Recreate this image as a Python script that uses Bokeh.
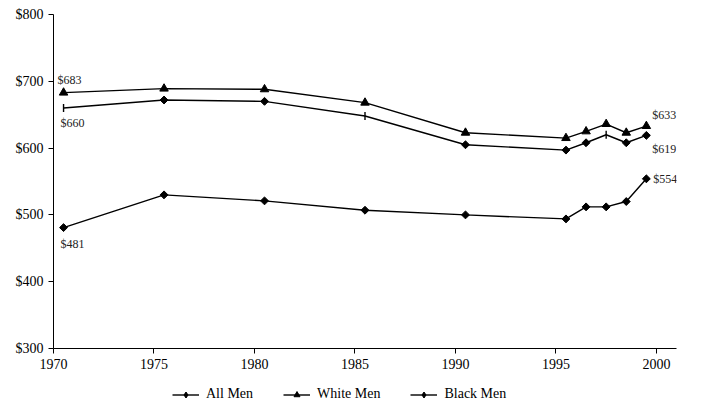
import math
from bokeh.plotting import figure
from bokeh.layouts import column
from bokeh.models import Range1d, FixedTicker, NumeralTickFormatter, Legend, LegendItem
from bokeh.embed import file_html
from bokeh.resources import INLINE
from bokeh.core.properties import value

years = [1970, 1975, 1980, 1985, 1990, 1995, 1996, 1997, 1998, 1999]
all_men = [660, 672, 670, 648, 605, 597, 608, 620, 608, 619]
white_men = [683, 689, 688, 668, 623, 615, 625, 636, 623, 633]
black_men = [481, 530, 521, 507, 500, 494, 512, 512, 520, 554]
# marker used at each All Men point in the original
all_men_markers = ["dash", "diamond", "diamond", "dash", "diamond",
                   "diamond", "diamond", "dash", "diamond", "diamond"]
x_ticks = [1970, 1975, 1980, 1985, 1990, 1995, 2000]
y_ticks = [300, 400, 500, 600, 700, 800]
series_names = ["All Men", "White Men", "Black Men"]

FONT = "Liberation Serif"

# points sit at mid-year on the date axis
xs = [y + 0.5 for y in years]

p = figure(width=704, height=380, x_range=Range1d(1970, 2001), y_range=Range1d(300, 800),
           output_backend="svg", toolbar_location=None,
           min_border_left=53, min_border_right=28, min_border_top=14, min_border_bottom=32)
p.outline_line_color = None
p.xgrid.visible = False
p.ygrid.visible = False

for ax in (p.xaxis[0], p.yaxis[0]):
    ax.axis_line_color = "black"
    ax.axis_line_width = 1
    ax.major_tick_line_color = "black"
    ax.major_tick_out = 5
    ax.major_tick_in = 0
    ax.minor_tick_line_color = None
    ax.major_label_text_font = FONT
    ax.major_label_text_font_size = "14px"
    ax.major_label_text_color = "black"

p.xaxis.ticker = FixedTicker(ticks=x_ticks)
p.yaxis.ticker = FixedTicker(ticks=y_ticks)
p.yaxis.formatter = NumeralTickFormatter(format="$0")

LW = 1.4
DSIZE = 5.6
TSIZE = 8.5

# All Men
p.line(xs, all_men, line_color="black", line_width=LW)
am_dx = [x for x, m in zip(xs, all_men_markers) if m == "diamond"]
am_dy = [v for v, m in zip(all_men, all_men_markers) if m == "diamond"]
am_tx = [x for x, m in zip(xs, all_men_markers) if m == "dash"]
am_ty = [v for v, m in zip(all_men, all_men_markers) if m == "dash"]
p.scatter(am_dx, am_dy, marker="square", angle=math.pi / 4, size=DSIZE,
          fill_color="black", line_color="black")
p.scatter(am_tx, am_ty, marker="dash", angle=math.pi / 2, size=8,
          line_color="black", line_width=1.4)

# White Men
p.line(xs, white_men, line_color="black", line_width=LW)
p.scatter(xs, white_men, marker="triangle", size=TSIZE,
          fill_color="black", line_color="black")

# Black Men
p.line(xs, black_men, line_color="black", line_width=LW)
p.scatter(xs, black_men, marker="square", angle=math.pi / 4, size=DSIZE,
          fill_color="black", line_color="black")

# data labels for first / last values
lab_style = dict(text_font=value(FONT), text_font_size="12px", text_color="#222222")
p.text([xs[0]], [white_men[0]], text=[f"${white_men[0]}"], x_offset=-6, y_offset=-6,
       text_align="left", text_baseline="bottom", **lab_style)
p.text([xs[0]], [all_men[0]], text=[f"${all_men[0]}"], x_offset=-3, y_offset=8,
       text_align="left", text_baseline="top", **lab_style)
p.text([xs[0]], [black_men[0]], text=[f"${black_men[0]}"], x_offset=-3, y_offset=9,
       text_align="left", text_baseline="top", **lab_style)
p.text([xs[-1]], [white_men[-1]], text=[f"${white_men[-1]}"], x_offset=6, y_offset=-4,
       text_align="left", text_baseline="bottom", **lab_style)
p.text([xs[-1]], [all_men[-1]], text=[f"${all_men[-1]}"], x_offset=6, y_offset=7,
       text_align="left", text_baseline="top", **lab_style)
p.text([xs[-1]], [black_men[-1]], text=[f"${black_men[-1]}"], x_offset=7, y_offset=0,
       text_align="left", text_baseline="middle", **lab_style)

# legend strip below the chart (its series glyphs lie outside its own ranges)
lg = figure(width=704, height=32, output_backend="svg", toolbar_location=None,
            x_axis_type=None, y_axis_type=None, min_border=0,
            x_range=Range1d(0, 1), y_range=Range1d(0, 1))
lg.outline_line_color = None
lg.xgrid.visible = False
lg.ygrid.visible = False
r_am_l = lg.line(xs, all_men, line_color="black", line_width=LW)
r_am_m = lg.scatter(xs, all_men, marker="diamond", size=9,
                    fill_color="black", line_color="black")
r_wm_l = lg.line(xs, white_men, line_color="black", line_width=LW)
r_wm_m = lg.scatter(xs, white_men, marker="triangle", size=TSIZE,
                    fill_color="black", line_color="black")
r_bm_l = lg.line(xs, black_men, line_color="black", line_width=LW)
r_bm_m = lg.scatter(xs, black_men, marker="diamond", size=9,
                    fill_color="black", line_color="black")

legend = Legend(items=[
    LegendItem(label=series_names[0], renderers=[r_am_l, r_am_m]),
    LegendItem(label=series_names[1], renderers=[r_wm_l, r_wm_m]),
    LegendItem(label=series_names[2], renderers=[r_bm_l, r_bm_m]),
], orientation="horizontal", location=(119, 10))
legend.label_text_font = FONT
legend.label_text_font_size = "14px"
legend.label_text_color = "black"
legend.glyph_width = 27
legend.glyph_height = 15
legend.label_standoff = 7
legend.spacing = 30
legend.padding = 0
legend.margin = 0
legend.border_line_color = None
legend.background_fill_alpha = 0
lg.add_layout(legend, "center")

layout = column(p, lg, spacing=0)
open("out.html", "w").write(file_html(layout, INLINE))
